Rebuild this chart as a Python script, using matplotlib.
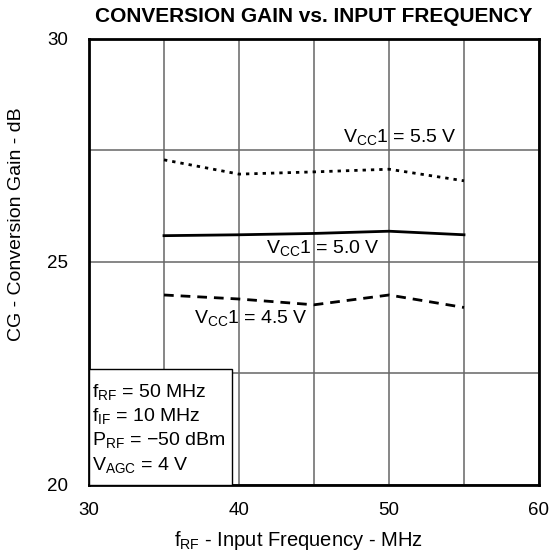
import numpy as np
import matplotlib
matplotlib.use("Agg")
import matplotlib.pyplot as plt

plt.rcParams["font.family"] = ["Liberation Sans", "DejaVu Sans"]
plt.rcParams["mathtext.fontset"] = "custom"
plt.rcParams["mathtext.rm"] = "Liberation Sans"
plt.rcParams["mathtext.it"] = "Liberation Sans"

# data
freq = [35, 40, 45, 50, 55]
cg_55 = [27.29, 26.97, 27.02, 27.08, 26.82]
cg_50 = [25.59, 25.61, 25.64, 25.69, 25.61]
cg_45 = [24.26, 24.17, 24.04, 24.26, 23.98]

xticks = [30, 40, 50, 60]
yticks = [20, 25, 30]

conditions = [r"f$_{\rm RF}$ = 50 MHz", r"f$_{\rm IF}$ = 10 MHz",
              r"P$_{\rm RF}$ = $-$50 dBm", r"V$_{\rm AGC}$ = 4 V"]

fig = plt.figure(figsize=(5.5, 5.56), dpi=100)
ax = fig.add_axes([0.1618, 0.1277, 0.8182, 0.8022])

ax.plot(freq, cg_55, color="black", lw=2, linestyle=(0, (1.2, 1.8)))
ax.plot(freq, cg_50, color="black", lw=2, linestyle="-")
ax.plot(freq, cg_45, color="black", lw=2, linestyle=(0, (3.5, 2.5)))

ax.set_xlim(30, 60)
ax.set_ylim(20, 30)
ax.set_xticks(xticks)
ax.set_yticks(yticks)
ax.set_xticks(np.arange(35, 60, 5), minor=True)
ax.set_yticks([22.5, 27.5], minor=True)
ax.tick_params(which="both", length=0, labelsize=13.5, colors="black")
ax.tick_params(axis="x", pad=12)
ax.tick_params(axis="y", pad=15)
ax.grid(True, which="both", color="#666666", lw=1.1)
ax.set_axisbelow(True)
for s in ax.spines.values():
    s.set_linewidth(2)

fig.text(314 / 550, 1 - 17 / 556, "CONVERSION GAIN vs. INPUT FREQUENCY",
         ha="center", va="center", fontsize=15, fontweight="bold")
fig.text(298 / 550, 1 - 540 / 556, r"f$_{\rm RF}$ - Input Frequency - MHz",
         ha="center", va="center", fontsize=14.5)
fig.text(17 / 550, 1 - 224 / 556, "CG - Conversion Gain - dB",
         ha="center", va="center", rotation=90, fontsize=14)

ax.text(54.55, 27.80, r"V$_{\rm CC}$1 = 5.5 V", ha="right", va="center", fontsize=14)
ax.text(45.6, 25.31, r"V$_{\rm CC}$1 = 5.0 V", ha="center", va="center", fontsize=14)
ax.text(40.8, 23.74, r"V$_{\rm CC}$1 = 4.5 V", ha="center", va="center", fontsize=14)

ax.add_patch(plt.Rectangle((30, 20), 9.53, 2.59, facecolor="white", edgecolor="black",
                           lw=1.0, zorder=4))
for i, line in enumerate(conditions):
    ax.text(30.2, 22.09 - i * 0.545, line, ha="left", va="center", fontsize=14, zorder=5)

fig.savefig("out.png", dpi=100)
